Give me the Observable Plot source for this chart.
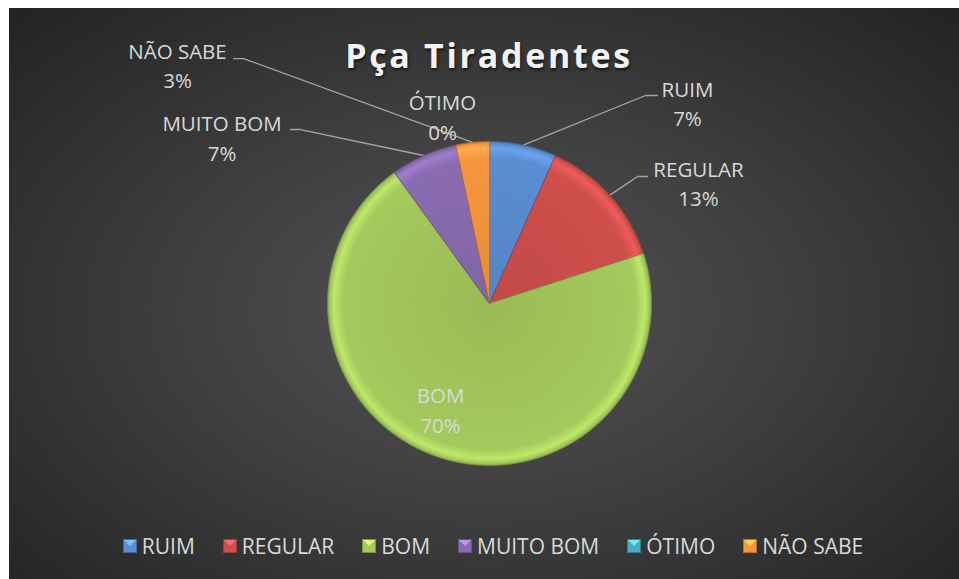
<!DOCTYPE html>
<html>
<head>
<meta charset="utf-8">
<script src="https://cdn.jsdelivr.net/npm/d3@7"></script>
<script src="https://cdn.jsdelivr.net/npm/@observablehq/plot@0.6"></script>
<style>
  html, body { margin: 0; padding: 0; background: #ffffff; }
  #chart {
    position: absolute; left: 9px; top: 8px; width: 950px; height: 571px; overflow: hidden;
    background: radial-gradient(ellipse farthest-corner at 50% 53%, #535353 0%, #3f3f3f 45%, #232323 100%);
  }
  #title {
    position: absolute; left: 480px; top: 30px; transform: translateX(-50%);
    white-space: nowrap; font-family: "Open Sans", sans-serif; font-weight: 700;
    font-size: 34px; line-height: 34px; letter-spacing: 2.7px; color: #f2f2f2;
    text-shadow: 1px 2px 3px rgba(0,0,0,0.65);
  }
  #plot { position: absolute; left: 0; top: 0; }
  #legend { position: absolute; left: 0; top: 521px; width: 950px; padding-left: 18px; box-sizing: border-box; }
  .lg-swatches { justify-content: center; font-family: "Open Sans", sans-serif !important; font-size: 21px !important; color: #d9d9d9; min-height: 33px; margin: 0 !important; }
  .lg-swatch { margin-right: 28px !important; }
  .lg-swatch:last-child { margin-right: 0 !important; }
  .lg-swatch svg { margin-right: 5px !important; }
</style>
</head>
<body>
<div id="chart">
  <div id="plot"></div>
  <div id="title">Pça Tiradentes</div>
  <div id="legend"></div>
</div>
<script>
// ---- data ----
const categories = ["RUIM", "REGULAR", "BOM", "MUITO BOM", "ÓTIMO", "NÃO SABE"];
const counts = [2, 4, 21, 2, 0, 1];
const colors = ["#5a8ed2", "#cf4f4c", "#a4c95c", "#8a6cb0", "#4bacc6", "#f7963f"];
const titleText = "Pça Tiradentes";

// ---- layout (not data) ----
const W = 950, H = 571;
const CX = 480, CY = 295, R = 162;
// label block centres in pie-radius units
const labelAt = [[1.222, 1.224], [1.290, 0.730], [-0.302, -0.667], [-1.651, 1.012], [-0.290, 1.142], [-1.926, 1.460]];
// leader line start / knee in pie-radius units (null = no leader)
const leaderStart = [[1.037, 1.284], [0.975, 0.784], null, [-1.228, 1.074], null, [-1.580, 1.512]];
const leaderKnee  = [[0.963, 1.284], [0.914, 0.784], null, [-1.167, 1.074], null, [-1.519, 1.512]];

const total = d3.sum(counts);
const arcs = d3.pie().sort(null).value(d => d)(counts);

// slice polygons in unit coordinates
const slices = arcs.map((a, i) => {
  const pts = [];
  const span = a.endAngle - a.startAngle;
  if (span <= 0) return pts;
  pts.push({cat: categories[i], x: 0, y: 0});
  const n = Math.max(2, Math.ceil(span / (Math.PI / 180)));
  for (let k = 0; k <= n; ++k) {
    const ang = a.startAngle + span * k / n;
    pts.push({cat: categories[i], x: Math.sin(ang), y: Math.cos(ang)});
  }
  return pts;
});

// leader lines
const leaders = [];
arcs.forEach((a, i) => {
  if (!leaderStart[i]) return;
  const mid = (a.startAngle + a.endAngle) / 2;
  leaders.push({cat: categories[i], x: leaderStart[i][0], y: leaderStart[i][1]});
  leaders.push({cat: categories[i], x: leaderKnee[i][0], y: leaderKnee[i][1]});
  leaders.push({cat: categories[i], x: Math.sin(mid), y: Math.cos(mid)});
});

const labels = categories.map((c, i) => ({
  text: c + "\n" + Math.round(counts[i] / total * 100) + "%",
  x: labelAt[i][0], y: labelAt[i][1]
}));

const sliceMarks = slices.map((pts, i) => pts.length ? Plot.line(pts, {
  x: "x", y: "y", curve: "linear-closed",
  fill: `url(#sg${i})`, stroke: d3.color(colors[i]).darker(0.9).formatHex(),
  strokeWidth: 0.8, strokeLinejoin: "round", strokeOpacity: 0.9
}) : null).filter(Boolean);

const plot = Plot.plot({
  width: W, height: H,
  margin: 0,
  style: {background: "transparent", overflow: "visible"},
  x: {domain: [-1, 1], range: [CX - R, CX + R], axis: null},
  y: {domain: [-1, 1], range: [CY + R, CY - R], axis: null},
  marks: [
    Plot.line(leaders, {x: "x", y: "y", z: "cat", stroke: "#a6a6a6", strokeWidth: 1.3, strokeLinejoin: "miter"}),
    ...sliceMarks,
    Plot.text(labels, {
      x: "x", y: "y", text: "text", fill: "#d9d9d9", dy: -3,
      fontSize: 20.5, fontFamily: "Open Sans, sans-serif", lineHeight: 1.44, textAnchor: "middle"
    })
  ]
});

// gradients giving the slices a bevelled rim
const defs = d3.select(plot).insert("defs", ":first-child");
colors.forEach((c, i) => {
  const base = d3.color(c);
  const g = defs.append("radialGradient").attr("id", `sg${i}`)
    .attr("gradientUnits", "userSpaceOnUse").attr("cx", CX).attr("cy", CY).attr("r", R);
  const stops = [
    [0, base.darker(0.2)], [0.9, base], [0.96, base.brighter(0.4)],
    [0.985, base], [1, base.darker(0.5)]
  ];
  stops.forEach(([o, col]) => g.append("stop").attr("offset", o).attr("stop-color", col.formatHex()));
});

document.getElementById("plot").appendChild(plot);

const legend = Plot.legend({
  color: {type: "ordinal", domain: categories, range: colors},
  legend: "swatches", swatchSize: 14, className: "lg"
});
d3.select(legend).selectAll("svg").each(function(_, i) {
  const s = d3.select(this);
  const c = d3.color(colors[i]);
  s.append("polygon").attr("points", "1,1 13,1 7,7").attr("fill", c.brighter(1.1).formatHex()).attr("opacity", 0.8);
  s.append("rect").attr("x", 0.5).attr("y", 0.5).attr("width", 13).attr("height", 13)
    .attr("fill", "none").attr("stroke", c.darker(0.8).formatHex()).attr("stroke-width", 1);
});
document.getElementById("legend").appendChild(legend);
document.getElementById("title").textContent = titleText;
</script>
</body>
</html>
